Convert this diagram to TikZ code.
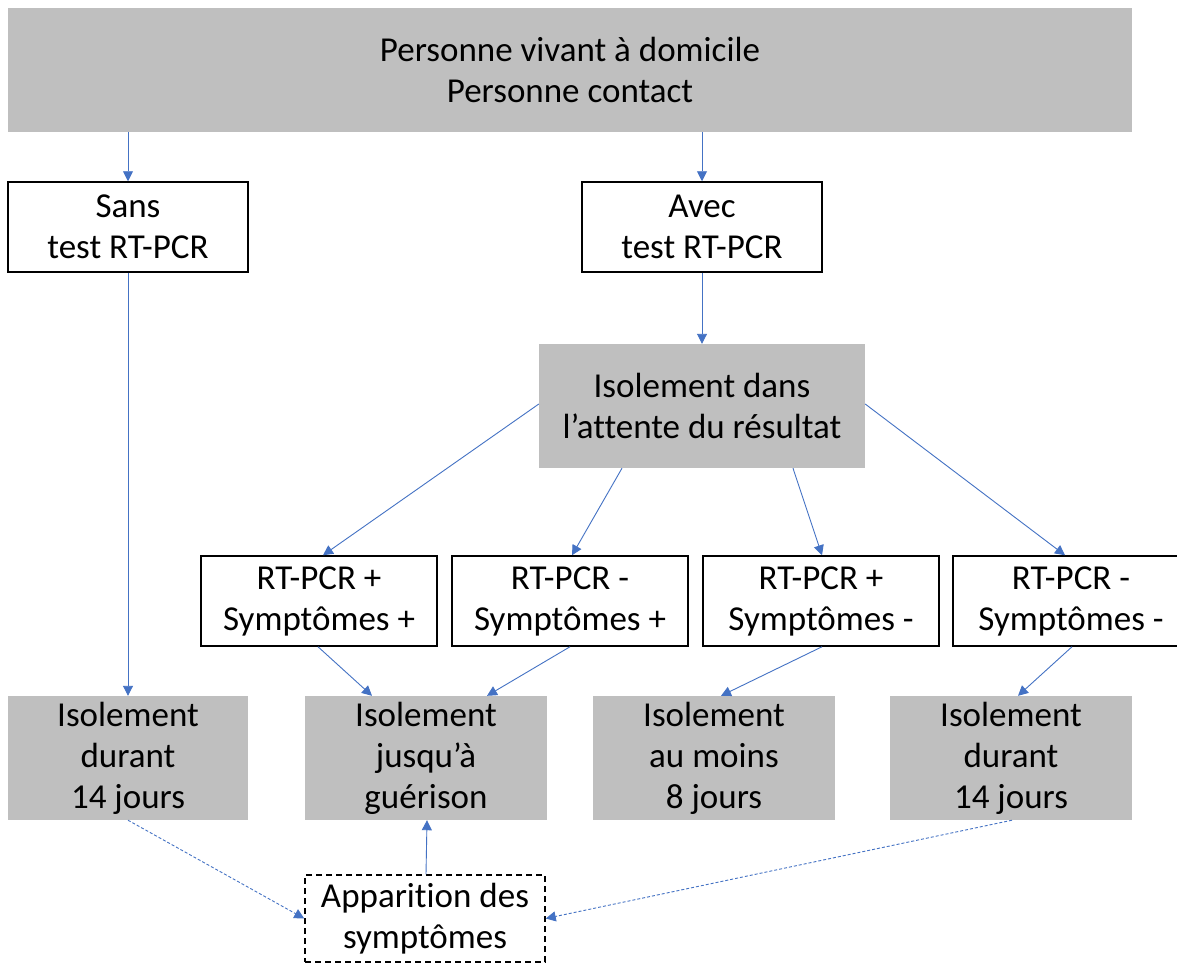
\documentclass[tikz,border=0pt]{standalone}
\usepackage{fontspec}
\setmainfont{Carlito}[Ligatures={NoCommon}]
\usetikzlibrary{arrows.meta}
\definecolor{boxgray}{HTML}{BFBFBF}
\definecolor{arrblue}{HTML}{4472C4}
\begin{document}
\begin{tikzpicture}[x=1pt,y=-1pt,
  base/.style={align=center,inner sep=0pt,font=\fontsize{35}{41}\selectfont},
  graybox/.style={base,fill=boxgray},
  whitebox/.style={base,draw=black,line width=1.5pt,fill=white},
  dashbox/.style={base,draw=black,line width=1.5pt,dash pattern=on 6pt off 4pt,fill=white},
  arr/.style={draw=arrblue,line width=0.9pt,-{Triangle[width=10pt,length=10pt]}},
  darr/.style={arr,dash pattern=on 3pt off 2pt}]
\clip (0,0) rectangle (1177,964);
\useasboundingbox (0,0) rectangle (1177,964);
\fill[white] (0,0) rectangle (1177,964);
% nodes
\node[graybox,minimum width=1124pt,minimum height=124pt] (top) at (570,70) {Personne vivant à domicile\\Personne contact};
\node[whitebox,minimum width=240pt,minimum height=90pt] (sans) at (128,227) {Sans\\test RT-PCR};
\node[whitebox,minimum width=240pt,minimum height=90pt] (avec) at (702,227) {Avec\\test RT-PCR};
\node[graybox,minimum width=326pt,minimum height=124pt] (iso) at (702,406) {Isolement dans\\l’attente du résultat};
\node[whitebox,minimum width=236pt,minimum height=90pt] (rt1) at (319,601) {RT-PCR +\\Symptômes +};
\node[whitebox,minimum width=236pt,minimum height=90pt] (rt2) at (570,601) {RT-PCR -\\Symptômes +};
\node[whitebox,minimum width=236pt,minimum height=90pt] (rt3) at (821,601) {RT-PCR +\\Symptômes -};
\node[whitebox,minimum width=236pt,minimum height=90pt] (rt4) at (1071,601) {RT-PCR -\\Symptômes -};
\node[graybox,minimum width=240pt,minimum height=124pt] (isoA) at (128,758) {Isolement\\durant\\14 jours};
\node[graybox,minimum width=242pt,minimum height=124pt] (isoB) at (426,758) {Isolement\\jusqu’à\\guérison};
\node[graybox,minimum width=242pt,minimum height=124pt] (isoC) at (714,758) {Isolement\\au moins\\8 jours};
\node[graybox,minimum width=242pt,minimum height=124pt] (isoD) at (1011,758) {Isolement\\durant\\14 jours};
\node[dashbox,minimum width=240pt,minimum height=87pt] (app) at (425,918.5) {Apparition des\\symptômes};
% connectors
\draw[arr] (sans.north |- top.south) -- (sans.north);
\draw[arr] (avec.north |- top.south) -- (avec.north);
\draw[arr] (avec.south) -- (iso.north);
\draw[arr] ([yshift=2pt]iso.west) -- ([xshift=4pt]rt1.north);
\draw[arr] ([xshift=-80pt]iso.south) -- ([xshift=2pt]rt2.north);
\draw[arr] ([xshift=91pt]iso.south) -- ([xshift=1pt]rt3.north);
\draw[arr] ([yshift=2pt]iso.east) -- ([xshift=-6pt]rt4.north);
\draw[arr] ([xshift=-1pt]rt1.south) -- ([xshift=-54pt]isoB.north);
\draw[arr] (rt2.south) -- ([xshift=61pt]isoB.north);
\draw[arr] ([xshift=1pt]rt3.south) -- ([xshift=7pt]isoC.north);
\draw[arr] ([xshift=1pt]rt4.south) -- ([xshift=7pt]isoD.north);
\draw[arr] (sans.south) -- (isoA.north);
\draw[arr] ([xshift=1pt]app.north) -- ([xshift=1pt]isoB.south);
\draw[darr] (isoA.south) -- (app.west);
\draw[darr] ([xshift=1pt]isoD.south) -- (app.east);
\end{tikzpicture}
\end{document}
